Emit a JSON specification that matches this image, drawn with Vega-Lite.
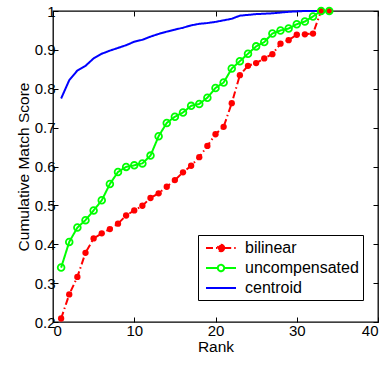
{
  "$schema": "https://vega.github.io/schema/vega-lite/v6.json",
  "autosize": "none",
  "width": 325,
  "height": 311,
  "padding": {"left": 53, "top": 11, "right": 8, "bottom": 45},
  "background": "white",
  "config": {
    "font": "Liberation Sans",
    "view": {"stroke": "black", "strokeWidth": 1.3},
    "style": {"guide-label": {"fontSize": 15, "font": "Liberation Sans", "fill": "black"}, "guide-title": {"fontSize": 15.5, "font": "Liberation Sans", "fill": "black", "fontWeight": "normal"}},
    "axis": {"domain": false, "grid": false, "tickColor": "black", "tickSize": -5, "tickWidth": 1, "labelColor": "black", "titleColor": "black", "labelFontSize": 15, "titleFontSize": 15.5, "titleFontWeight": "normal", "labelFont": "Liberation Sans", "titleFont": "Liberation Sans"},
    "axisX": {"labelFontSize": 15},
    "axisY": {"labelFontSize": 15},
    "axisQuantitative": {"labelFontSize": 15}
  },
  "data": {"values": [
    {"series":"bilinear","rank":1,"score":0.209},{"series":"bilinear","rank":2,"score":0.271},{"series":"bilinear","rank":3,"score":0.316},{"series":"bilinear","rank":4,"score":0.378},{"series":"bilinear","rank":5,"score":0.415},{"series":"bilinear","rank":6,"score":0.428},{"series":"bilinear","rank":7,"score":0.439},{"series":"bilinear","rank":8,"score":0.453},{"series":"bilinear","rank":9,"score":0.474},{"series":"bilinear","rank":10,"score":0.487},{"series":"bilinear","rank":11,"score":0.499},{"series":"bilinear","rank":12,"score":0.519},{"series":"bilinear","rank":13,"score":0.531},{"series":"bilinear","rank":14,"score":0.548},{"series":"bilinear","rank":15,"score":0.565},{"series":"bilinear","rank":16,"score":0.585},{"series":"bilinear","rank":17,"score":0.602},{"series":"bilinear","rank":18,"score":0.624},{"series":"bilinear","rank":19,"score":0.653},{"series":"bilinear","rank":20,"score":0.683},{"series":"bilinear","rank":21,"score":0.702},{"series":"bilinear","rank":22,"score":0.763},{"series":"bilinear","rank":23,"score":0.835},{"series":"bilinear","rank":24,"score":0.859},{"series":"bilinear","rank":25,"score":0.866},{"series":"bilinear","rank":26,"score":0.878},{"series":"bilinear","rank":27,"score":0.889},{"series":"bilinear","rank":28,"score":0.916},{"series":"bilinear","rank":29,"score":0.925},{"series":"bilinear","rank":30,"score":0.939},{"series":"bilinear","rank":31,"score":0.94},{"series":"bilinear","rank":32,"score":0.942},{"series":"bilinear","rank":33,"score":1.0},{"series":"bilinear","rank":34,"score":1.0},
    {"series":"uncompensated","rank":1,"score":0.34},{"series":"uncompensated","rank":2,"score":0.406},{"series":"uncompensated","rank":3,"score":0.443},{"series":"uncompensated","rank":4,"score":0.462},{"series":"uncompensated","rank":5,"score":0.487},{"series":"uncompensated","rank":6,"score":0.513},{"series":"uncompensated","rank":7,"score":0.555},{"series":"uncompensated","rank":8,"score":0.586},{"series":"uncompensated","rank":9,"score":0.599},{"series":"uncompensated","rank":10,"score":0.603},{"series":"uncompensated","rank":11,"score":0.608},{"series":"uncompensated","rank":12,"score":0.628},{"series":"uncompensated","rank":13,"score":0.678},{"series":"uncompensated","rank":14,"score":0.712},{"series":"uncompensated","rank":15,"score":0.728},{"series":"uncompensated","rank":16,"score":0.739},{"series":"uncompensated","rank":17,"score":0.756},{"series":"uncompensated","rank":18,"score":0.761},{"series":"uncompensated","rank":19,"score":0.777},{"series":"uncompensated","rank":20,"score":0.802},{"series":"uncompensated","rank":21,"score":0.816},{"series":"uncompensated","rank":22,"score":0.852},{"series":"uncompensated","rank":23,"score":0.871},{"series":"uncompensated","rank":24,"score":0.89},{"series":"uncompensated","rank":25,"score":0.909},{"series":"uncompensated","rank":26,"score":0.92},{"series":"uncompensated","rank":27,"score":0.942},{"series":"uncompensated","rank":28,"score":0.95},{"series":"uncompensated","rank":29,"score":0.955},{"series":"uncompensated","rank":30,"score":0.966},{"series":"uncompensated","rank":31,"score":0.973},{"series":"uncompensated","rank":32,"score":0.986},{"series":"uncompensated","rank":33,"score":1.0},{"series":"uncompensated","rank":34,"score":1.0},
    {"series":"centroid","rank":1,"score":0.775},{"series":"centroid","rank":2,"score":0.822},{"series":"centroid","rank":3,"score":0.847},{"series":"centroid","rank":4,"score":0.859},{"series":"centroid","rank":5,"score":0.878},{"series":"centroid","rank":6,"score":0.89},{"series":"centroid","rank":7,"score":0.898},{"series":"centroid","rank":8,"score":0.905},{"series":"centroid","rank":9,"score":0.912},{"series":"centroid","rank":10,"score":0.921},{"series":"centroid","rank":11,"score":0.926},{"series":"centroid","rank":12,"score":0.934},{"series":"centroid","rank":13,"score":0.941},{"series":"centroid","rank":14,"score":0.947},{"series":"centroid","rank":15,"score":0.952},{"series":"centroid","rank":16,"score":0.957},{"series":"centroid","rank":17,"score":0.963},{"series":"centroid","rank":18,"score":0.967},{"series":"centroid","rank":19,"score":0.969},{"series":"centroid","rank":20,"score":0.972},{"series":"centroid","rank":21,"score":0.976},{"series":"centroid","rank":22,"score":0.98},{"series":"centroid","rank":23,"score":0.988},{"series":"centroid","rank":24,"score":0.99},{"series":"centroid","rank":25,"score":0.992},{"series":"centroid","rank":26,"score":0.993},{"series":"centroid","rank":27,"score":0.994},{"series":"centroid","rank":28,"score":0.996},{"series":"centroid","rank":29,"score":0.998},{"series":"centroid","rank":30,"score":0.999},{"series":"centroid","rank":31,"score":1.0},{"series":"centroid","rank":32,"score":1.0},{"series":"centroid","rank":33,"score":1.0},{"series":"centroid","rank":34,"score":1.0}
  ]},
  "layer": [
    {
      "mark": {"type": "line", "strokeWidth": 2},
      "encoding": {
        "x": {"field": "rank", "type": "quantitative", "scale": {"domain": [0, 40], "nice": false, "zero": false},
              "axis": {"title": "Rank", "values": [0, 10, 20, 30, 40], "labelFontSize": 15, "titleFontSize": 15.5, "labelFont": "Liberation Sans", "titleFont": "Liberation Sans", "labelColor": "black", "titleColor": "black", "labelPadding": 6, "titlePadding": 1}},
        "y": {"field": "score", "type": "quantitative", "scale": {"domain": [0.2, 1], "nice": false, "zero": false},
              "axis": {"title": "Cumulative Match Score", "values": [0.2, 0.3, 0.4, 0.5, 0.6, 0.7, 0.8, 0.9, 1], "format": "~g", "labelFontSize": 15, "titleFontSize": 15.5, "labelFont": "Liberation Sans", "titleFont": "Liberation Sans", "labelColor": "black", "titleColor": "black", "labelPadding": 3, "titlePadding": 3}},
        "color": {"field": "series", "type": "nominal",
          "scale": {"domain": ["bilinear", "uncompensated", "centroid"], "range": ["#ff0000", "#00ff00", "#0000ff"]},
          "legend": {"title": null, "orient": "none", "legendX": 145, "legendY": 224,
            "strokeColor": "black", "fillColor": "white", "padding": 4,
            "labelFontSize": 16, "labelColor": "black", "labelFont": "Liberation Sans",
            "symbolSize": 256, "symbolStrokeWidth": 2, "rowPadding": 3, "symbolOffset": 10, "labelOffset": 15,
            "encode": {"symbols": {"update": {
              "shape": {"signal": "datum.value === 'centroid' ? 'M-1.875,0L1.875,0' : 'M-1.875,0L-0.4,0M0.4,0L1.875,0M0.4,0A0.4,0.4 0 1 1 -0.4,0A0.4,0.4 0 1 1 0.4,0'"},
              "fill": {"signal": "datum.value === 'bilinear' ? '#ff0000' : 'white'"}
            }}}}
        },
        "strokeDash": {"field": "series", "type": "nominal",
          "scale": {"domain": ["bilinear", "uncompensated", "centroid"], "range": [[7, 3, 1.5, 3], [1, 0], [1, 0]]},
          "legend": null}
      }
    },
    {
      "transform": [{"filter": "datum.series === 'bilinear'"}],
      "mark": {"type": "point", "shape": "circle", "filled": true, "color": "#ff0000", "size": 40, "opacity": 1},
      "encoding": {
        "x": {"field": "rank", "type": "quantitative", "axis": null},
        "y": {"field": "score", "type": "quantitative", "axis": null}
      }
    },
    {
      "transform": [{"filter": "datum.series === 'uncompensated'"}],
      "mark": {"type": "point", "shape": "circle", "filled": false, "color": "#00ff00", "size": 45, "strokeWidth": 1.8, "opacity": 1},
      "encoding": {
        "x": {"field": "rank", "type": "quantitative", "axis": null},
        "y": {"field": "score", "type": "quantitative", "axis": null}
      }
    },
    {
      "mark": {"type": "line", "opacity": 0},
      "encoding": {
        "x": {"field": "rank", "type": "quantitative", "axis": {"orient": "top", "labels": false, "title": null, "values": [0, 10, 20, 30, 40]}},
        "y": {"field": "score", "type": "quantitative", "axis": {"orient": "right", "labels": false, "title": null, "values": [0.2, 0.3, 0.4, 0.5, 0.6, 0.7, 0.8, 0.9, 1]}},
        "detail": {"field": "series"}
      }
    }
  ],
  "resolve": {"axis": {"x": "independent", "y": "independent"}}
}
